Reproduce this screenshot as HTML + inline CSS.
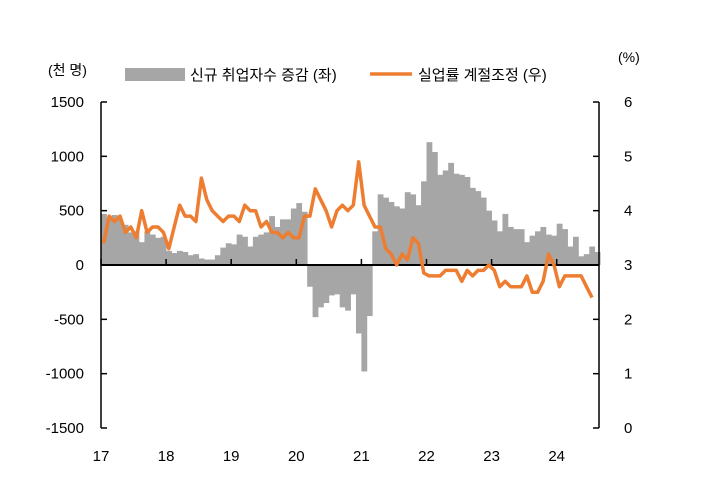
<!DOCTYPE html><html><head><meta charset="utf-8"><style>
body{margin:0;background:#fff;width:720px;height:479px;overflow:hidden;font-family:"Liberation Sans","Noto Sans CJK KR",sans-serif}
</style></head><body>
<svg id="c" width="720" height="479" font-family="Liberation Sans, Noto Sans CJK KR, sans-serif" font-size="15">
<g id="bars"></g>
<g id="axes"></g>
<path id="line" fill="none" stroke="#ed7d31" stroke-width="3.5" stroke-linejoin="round"/>
<text x="48" y="75" font-size="14">(천 명)</text>
<text x="618" y="62" font-size="14">(%)</text>
<rect x="125" y="68" width="60" height="13" fill="#a6a6a6"/>
<text x="190" y="80" font-size="15">신규 취업자수 증감 (좌)</text>
<line x1="370" y1="74" x2="412" y2="74" stroke="#ed7d31" stroke-width="3.5"/>
<text x="418" y="80" font-size="15">실업률 계절조정 (우)</text>
</svg>
<script>
const emp=[470,440,460,420,370,300,310,210,310,280,250,260,
130,110,130,120,90,100,60,50,50,90,160,200,
190,280,260,170,260,280,300,450,350,420,420,520,
570,490,-200,-480,-390,-350,-280,-270,-390,-420,-270,-630,
-980,-470,310,650,620,580,540,520,670,650,550,770,
1130,1040,830,870,940,840,830,810,710,680,620,500,
410,310,470,350,330,330,210,270,310,350,280,270,
380,330,170,260,80,100,170,120];
const rate=[3.4,3.9,3.8,3.9,3.6,3.7,3.5,4.0,3.6,3.7,3.7,3.6,
3.3,3.7,4.1,3.9,3.9,3.8,4.6,4.2,4.0,3.9,3.8,3.9,
3.9,3.8,4.1,4.0,4.0,3.7,3.8,3.6,3.6,3.5,3.6,3.5,
3.5,3.9,3.9,4.4,4.2,4.0,3.7,4.0,4.1,4.0,4.1,4.9,
4.1,3.9,3.7,3.7,3.3,3.2,3.0,3.2,3.1,3.5,3.4,2.85,
2.8,2.8,2.8,2.9,2.9,2.9,2.7,2.9,2.8,2.9,2.9,3.0,
2.9,2.6,2.7,2.6,2.6,2.6,2.8,2.5,2.5,2.7,3.2,3.0,
2.6,2.8,2.8,2.8,2.8,2.6,2.4];
const leftTicks=[1500,1000,500,0,-500,-1000,-1500];
const rightTicks=[6,5,4,3,2,1,0];
const years=["17","18","19","20","21","22","23","24"];
const NS="http://www.w3.org/2000/svg";
const X0=101,MW=65.1/12,YT=102,YB=428;
const yL=v=>YT+(1500-v)/3000*(YB-YT);
const yR=v=>YT+(6-v)/6*(YB-YT);
const xm=i=>X0+i*MW;
function mk(t,a,p){const e=document.createElementNS(NS,t);for(const k in a)e.setAttribute(k,a[k]);p.appendChild(e);return e;}
const bg=document.getElementById('bars');
emp.forEach((v,i)=>{const y=Math.min(yL(v),yL(0));
const r=mk('rect',{x:xm(i),y:y,width:MW+0.4,height:Math.abs(yL(v)-yL(0)),fill:'#a6a6a6'},bg);

});
document.getElementById('line').setAttribute('d',rate.map((v,i)=>(i?'L':'M')+(xm(i)+MW/2).toFixed(1)+' '+yR(v).toFixed(1)).join(''));
const ax=document.getElementById('axes');
mk('line',{x1:X0,y1:YT,x2:X0,y2:YB,stroke:'#000','stroke-width':1.5},ax);
const XR=599;
mk('line',{x1:XR,y1:YT,x2:XR,y2:YB,stroke:'#000','stroke-width':1.5},ax);
mk('line',{x1:X0,y1:yL(0),x2:XR,y2:yL(0),stroke:'#000','stroke-width':2},ax);
leftTicks.forEach(v=>{mk('line',{x1:X0,y1:yL(v),x2:X0+6,y2:yL(v),stroke:'#000','stroke-width':1.5},ax);
const t=mk('text',{x:84,y:yL(v)+5,'text-anchor':'end'},ax);t.textContent=v;

});
rightTicks.forEach(v=>{mk('line',{x1:XR-6,y1:yR(v),x2:XR,y2:yR(v),stroke:'#000','stroke-width':1.5},ax);
const t=mk('text',{x:624,y:yR(v)+5},ax);t.textContent=v;

});
years.forEach((y,i)=>{const x=X0+i*65.1;
mk('line',{x1:x,y1:yL(0)-6,x2:x,y2:yL(0),stroke:'#000','stroke-width':1.5},ax);
const t=mk('text',{x:x,y:461,'text-anchor':'middle'},ax);t.textContent=y;

});
</script></body></html>
